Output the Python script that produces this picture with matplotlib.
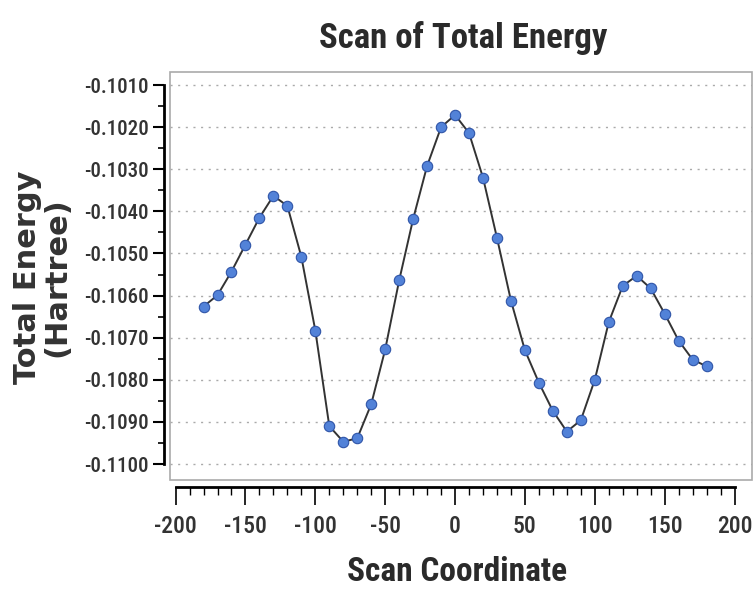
import matplotlib
matplotlib.use('Agg')
import matplotlib.pyplot as plt
from matplotlib.ticker import MultipleLocator, FixedLocator, FormatStrFormatter
from matplotlib.patches import Rectangle

plt.rcParams['axes.unicode_minus'] = False

# scan data
scan_coord = [-180, -170, -160, -150, -140, -130, -120, -110, -100, -90,
              -80, -70, -60, -50, -40, -30, -20, -10, 0, 10,
              20, 30, 40, 50, 60, 70, 80, 90, 100, 110,
              120, 130, 140, 150, 160, 170, 180]
energy = [-0.10626, -0.10599, -0.10543, -0.10479, -0.10415, -0.10363, -0.10387, -0.10508, -0.10683, -0.10910,
          -0.10947, -0.10939, -0.10858, -0.10728, -0.10564, -0.10418, -0.10292, -0.10200, -0.10171, -0.10214,
          -0.10320, -0.10463, -0.10612, -0.10730, -0.10807, -0.10874, -0.10923, -0.10896, -0.10800, -0.10663,
          -0.10577, -0.10553, -0.10583, -0.10643, -0.10707, -0.10752, -0.10768]

x_minor = list(range(-200, 201, 10))

narrow = ['Roboto Condensed', 'DejaVu Sans']

fig = plt.figure(figsize=(7.56, 5.93), dpi=100)
ax = fig.add_axes([170 / 756, 113 / 593, 582 / 756, 408 / 593])

ax.plot(scan_coord, energy, color='#333333', linewidth=1.4, zorder=2)
ax.plot(scan_coord, energy, linestyle='none', marker='o', markersize=7.5,
        markerfacecolor='#5282d8', markeredgecolor='#2f55a8', markeredgewidth=0.8, zorder=3)

ax.set_xlim(-204, 212.5)
ax.set_ylim(-0.11038, -0.10069)

ax.xaxis.set_major_locator(MultipleLocator(50))
ax.xaxis.set_minor_locator(FixedLocator(x_minor))
ax.yaxis.set_major_locator(MultipleLocator(0.001))
ax.yaxis.set_minor_locator(MultipleLocator(0.0005))
ax.yaxis.set_major_formatter(FormatStrFormatter('%.4f'))

ax.spines['top'].set_visible(False)
ax.spines['right'].set_visible(False)
ax.spines['left'].set_bounds(-0.1100, -0.1010)
ax.spines['bottom'].set_bounds(-200, 200)
ax.spines['left'].set_position(('outward', 4.5))
ax.spines['bottom'].set_position(('outward', 5))
ax.spines['left'].set_linewidth(2)
ax.spines['bottom'].set_linewidth(2)

ax.tick_params(axis='y', which='major', direction='out', length=8, width=1.5, pad=3)
ax.tick_params(axis='y', which='minor', direction='out', length=4, width=1.2)
ax.tick_params(axis='x', which='major', direction='out', length=13, width=1.2, pad=7)
ax.tick_params(axis='x', which='minor', direction='out', length=6, width=1.0)

for lab in ax.get_yticklabels():
    lab.set_fontfamily(narrow)
    lab.set_fontsize(15)
    lab.set_fontweight('medium')
    lab.set_color('#333333')
for lab in ax.get_xticklabels():
    lab.set_fontfamily(narrow)
    lab.set_fontsize(17)
    lab.set_fontweight('medium')
    lab.set_color('#333333')

ax.yaxis.grid(True, which='major', color='#aaaaaa', linestyle=(0, (1.5, 4)), linewidth=1)
ax.set_axisbelow(True)

# light frame around the plot area
ax.add_patch(Rectangle((0, 0), 1, 1, transform=ax.transAxes, fill=False,
                       edgecolor='#aaaaaa', linewidth=1.2, clip_on=False, zorder=1))

fig.text(463 / 756, 1 - 38 / 593, 'Scan of Total Energy', ha='center', va='center',
         fontfamily=narrow, fontweight='bold', fontsize=25, color='#2a2a2a')
fig.text(457 / 756, 1 - 572 / 593, 'Scan Coordinate', ha='center', va='center',
         fontfamily=narrow, fontweight='bold', fontsize=24, color='#2a2a2a')
fig.text(42 / 756, 1 - 277 / 593, 'Total Energy\n(Hartree)', ha='center', va='center',
         rotation=90, fontfamily='DejaVu Sans', fontweight='bold', fontsize=22,
         color='#333333', linespacing=1.0)

fig.savefig('out.png', dpi=100)
